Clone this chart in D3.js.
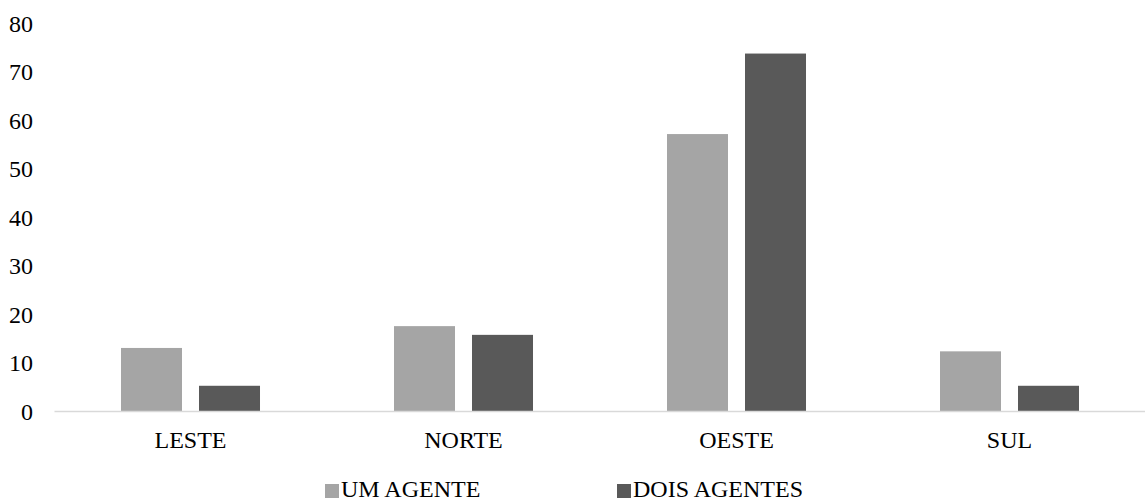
<!DOCTYPE html>
<html>
<head>
<meta charset="utf-8">
<script src="https://cdn.jsdelivr.net/npm/d3@7/dist/d3.min.js"></script>
<style>
  html, body { margin: 0; padding: 0; background: #fff; }
  svg { display: block; }
  text { font-family: "Liberation Serif", "Times New Roman", serif; fill: #000; }
</style>
</head>
<body>
<svg id="chart" width="1145" height="502"></svg>
<script>
// Regions and the two series plotted for each
const categories = ["LESTE", "NORTE", "OESTE", "SUL"];
const seriesNames = ["UM AGENTE", "DOIS AGENTES"];
const umAgente = [13.0, 17.5, 57.1, 12.3];
const doisAgentes = [5.2, 15.7, 73.7, 5.2];
const yTicks = [0, 10, 20, 30, 40, 50, 60, 70, 80];
const seriesColors = ["#a5a5a5", "#595959"];

const seriesValues = [umAgente, doisAgentes];
const rows = categories.map((c, i) => ({
  category: c,
  values: seriesNames.map((s, j) => ({ series: s, value: seriesValues[j][i], color: seriesColors[j] }))
}));

const svg = d3.select("#chart");
const fontSize = 24;

const x0 = d3.scaleBand().domain(categories).range([54, 1146]).paddingInner(0).paddingOuter(0);
const bw = x0.bandwidth();
const x1 = d3.scaleBand().domain(seriesNames)
  .range([bw * 0.2454, bw * (1 - 0.2454)])
  .paddingInner(0.218).paddingOuter(0);
const y = d3.scaleLinear().domain([0, 80]).range([411, 23]);

// Y axis labels (no axis line, no ticks)
const yAxis = svg.append("g").attr("transform", "translate(33,0)")
  .call(d3.axisLeft(y).tickValues(yTicks).tickSize(0).tickPadding(0));
yAxis.select(".domain").remove();
yAxis.selectAll("text")
  .attr("font-size", fontSize)
  .attr("font-family", "Liberation Serif, Times New Roman, serif")
  .attr("fill", "#000")
  .attr("dy", "0.34em");

// Bars
const groups = svg.append("g").selectAll("g").data(rows).join("g")
  .attr("transform", d => `translate(${x0(d.category)},0)`);
groups.selectAll("rect").data(d => d.values).join("rect")
  .attr("x", d => x1(d.series))
  .attr("width", x1.bandwidth())
  .attr("y", d => y(d.value))
  .attr("height", d => y(0) - y(d.value))
  .attr("fill", d => d.color);

// Category axis along the baseline
const xAxis = svg.append("g").attr("transform", `translate(0,${y(0)})`)
  .call(d3.axisBottom(x0).tickSize(0).tickPadding(0));
xAxis.select(".domain").attr("stroke", "#d9d9d9").attr("stroke-width", 1.3);
xAxis.selectAll("text")
  .attr("font-size", fontSize)
  .attr("font-family", "Liberation Serif, Times New Roman, serif")
  .attr("fill", "#000")
  .attr("dy", null)
  .attr("y", 37);

// Legend
const legendX = [325, 617];
const legend = svg.append("g").selectAll("g").data(seriesNames).join("g")
  .attr("transform", (d, i) => `translate(${legendX[i]},0)`);
legend.append("rect")
  .attr("x", 0).attr("y", 484).attr("width", 14).attr("height", 14)
  .attr("fill", (d, i) => seriesColors[i]);
legend.append("text")
  .attr("x", 16).attr("y", 497)
  .attr("font-size", fontSize)
  .text(d => d);
</script>
</body>
</html>
